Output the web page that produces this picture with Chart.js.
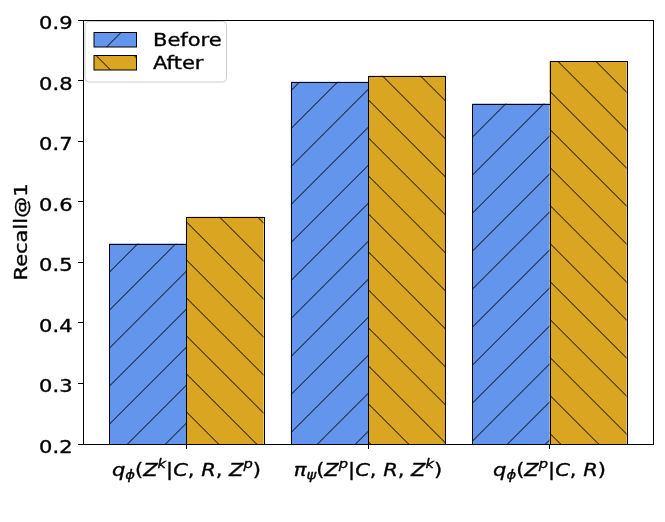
<!DOCTYPE html>
<html lang="en">
<head>
<meta charset="UTF-8">
<title>Recall@1 before and after</title>
<script src="https://cdn.jsdelivr.net/npm/chart.js"></script>
<style>
  body { margin: 0; background: #fff; }
  #wrap { width: 665px; height: 522px; position: relative; }
</style>
</head>
<body>
<div id="wrap"><canvas id="chart"></canvas></div>
<script>
  // data
  const categories = ['q_{ϕ}(Z^{k}|C, R, Z^{p})', 'π_{ψ}(Z^{p}|C, R, Z^{k})', 'q_{ϕ}(Z^{p}|C, R)'];
  const seriesNames = ['Before', 'After'];
  const beforeValues = [0.531, 0.798, 0.762];
  const afterValues = [0.575, 0.808, 0.832];
  const yTicks = [0.2, 0.3, 0.4, 0.5, 0.6, 0.7, 0.8, 0.9];
  const yTitle = 'Recall@1';

  const FONT = '"DejaVu Sans", sans-serif';
  const FS = 17.5;      // font size
  const SX = 1.2;       // the reference text runs wider than its height
  const BLUE = '#6495ED';
  const GOLD = '#DAA520';

  // hatch tile, dir > 0 is "/", dir < 0 is "\"
  function hatch(color, dir, shift) {
    const s = 38;
    const c = document.createElement('canvas');
    c.width = s; c.height = s;
    const g = c.getContext('2d');
    g.fillStyle = color;
    g.fillRect(0, 0, s, s);
    g.strokeStyle = '#000';
    g.lineWidth = 1;
    g.beginPath();
    for (let k = -1; k <= 1; k++) {
      if (dir > 0) { g.moveTo(k * s - 1, s + 1); g.lineTo(k * s + s + 1, -1); }
      else { g.moveTo(k * s - 1, -1); g.lineTo(k * s + s + 1, s + 1); }
    }
    g.stroke();
    const p = g.createPattern(c, 'repeat');
    p.setTransform(new DOMMatrix().translate(shift, 0));
    return p;
  }

  const blueHatch = hatch(BLUE, 1, 1.5);
  const goldHatch = hatch(GOLD, -1, 2.5);

  function ink(ctx, str, x, y) {
    ctx.fillText(str, x, y);
    ctx.strokeText(str, x, y);
  }

  // text stretched along its own direction
  function text(ctx, str, x, y, align, angle) {
    ctx.save();
    ctx.translate(x, y);
    ctx.rotate(angle || 0);
    ctx.scale(SX, 1);
    ctx.font = FS + 'px ' + FONT;
    ctx.textAlign = align;
    ctx.textBaseline = 'alphabetic';
    ctx.fillStyle = '#000';
    ctx.strokeStyle = '#000';
    ctx.lineWidth = 0.35;
    ink(ctx, str, 0, 0);
    ctx.restore();
  }

  // tiny mathtext: x_{sub}, x^{sup}
  function parseMath(str) {
    const parts = [];
    let i = 0;
    while (i < str.length) {
      const ch = str[i];
      if ((ch === '_' || ch === '^') && str[i + 1] === '{') {
        const end = str.indexOf('}', i);
        parts.push({ text: str.slice(i + 2, end), level: ch === '_' ? -1 : 1 });
        i = end + 1;
      } else {
        parts.push({ text: ch, level: 0 });
        i++;
      }
    }
    return parts;
  }

  function mathFont(ch, level) {
    const size = level === 0 ? FS : FS * 0.7;
    const italic = /\p{L}/u.test(ch) ? 'italic ' : '';
    return italic + size + 'px ' + FONT;
  }

  function drawMath(ctx, str, cx, baseline) {
    const glyphs = [];
    let width = 0;
    parseMath(str).forEach(p => {
      for (const ch of p.text) {
        ctx.font = mathFont(ch, p.level);
        const w = ctx.measureText(ch).width;
        glyphs.push({ ch, level: p.level, w });
        width += w;
      }
    });
    ctx.save();
    ctx.translate(cx - width * SX / 2, baseline);
    ctx.scale(SX, 1);
    ctx.textAlign = 'left';
    ctx.textBaseline = 'alphabetic';
    ctx.fillStyle = '#000';
    ctx.strokeStyle = '#000';
    ctx.lineWidth = 0.35;
    let x = 0;
    glyphs.forEach(gl => {
      ctx.font = mathFont(gl.ch, gl.level);
      const dy = gl.level === 1 ? -7.5 : gl.level === -1 ? 3.5 : 0;
      ink(ctx, gl.ch, x, dy);
      x += gl.w;
    });
    ctx.restore();
  }

  const decorations = {
    id: 'decorations',
    afterDatasetsDraw(chart) {
      // crisp 1px bar outlines on the library's own bar rectangles
      const ctx = chart.ctx;
      const a = chart.chartArea;
      ctx.save();
      ctx.strokeStyle = '#000';
      ctx.lineWidth = 1;
      chart.data.datasets.forEach((ds, di) => {
        chart.getDatasetMeta(di).data.forEach(bar => {
          const l = Math.round(bar.x - bar.width / 2);
          const r = Math.round(bar.x + bar.width / 2);
          const t = Math.round(bar.y);
          const b = Math.round(Math.min(bar.base, a.bottom));
          ctx.strokeRect(l + 0.5, t + 0.5, r - l, b - t);
        });
      });
      ctx.restore();
    },
    afterDraw(chart) {
      const ctx = chart.ctx;
      const a = chart.chartArea;
      ctx.save();
      // axes frame
      ctx.strokeStyle = '#000';
      ctx.lineWidth = 1;
      ctx.strokeRect(Math.round(a.left) + 0.5, Math.round(a.top) + 0.5,
        Math.round(a.right - a.left), Math.round(a.bottom - a.top));

      // x tick labels
      const xs = chart.scales.x;
      categories.forEach((c, i) => drawMath(ctx, c, xs.getPixelForValue(i), a.bottom + 31.5));

      // y tick labels
      const ys = chart.scales.y;
      yTicks.forEach(v => text(ctx, v.toFixed(1), a.left - 10.5, ys.getPixelForValue(v) + 9, 'right'));

      // y title
      text(ctx, yTitle, 26.5, (a.top + a.bottom) / 2, 'center', -Math.PI / 2);

      // legend
      const lx = a.left + 2, ly = a.top + 1.5, lw = 141.5, lh = 60.5;
      ctx.beginPath();
      ctx.roundRect(lx, ly, lw, lh, 4);
      ctx.fillStyle = 'rgba(255,255,255,0.8)';
      ctx.fill();
      ctx.strokeStyle = '#cccccc';
      ctx.lineWidth = 1;
      ctx.stroke();
      const fills = [blueHatch, goldHatch];
      seriesNames.forEach((name, i) => {
        const py = ly + 11 + i * 23;
        ctx.fillStyle = fills[i];
        ctx.fillRect(lx + 9, py, 42.5, 14.5);
        ctx.strokeStyle = '#000';
        ctx.lineWidth = 1;
        ctx.strokeRect(lx + 9, py, 42.5, 14.5);
        text(ctx, name, lx + 68, py + 13, 'left');
      });
      ctx.restore();
    }
  };

  const chart = new Chart(document.getElementById('chart'), {
    type: 'bar',
    data: {
      datasets: [
        {
          label: seriesNames[0],
          data: beforeValues.map((v, i) => ({ x: i, y: v })),
          backgroundColor: blueHatch,
          borderWidth: 0,
          inflateAmount: 0
        },
        {
          label: seriesNames[1],
          data: afterValues.map((v, i) => ({ x: i, y: v })),
          backgroundColor: goldHatch,
          borderWidth: 0,
          inflateAmount: 0
        }
      ]
    },
    options: {
      responsive: true,
      maintainAspectRatio: false,
      animation: false,
      categoryPercentage: 0.85,
      barPercentage: 1.0,
      layout: { padding: { top: 20, right: 12, left: 0, bottom: 0 } },
      plugins: {
        legend: { display: false },
        tooltip: { enabled: false }
      },
      scales: {
        x: {
          type: 'linear',
          min: -0.57,
          max: 2.57,
          offset: false,
          afterBuildTicks: s => { s.ticks = categories.map((c, i) => ({ value: i })); },
          afterFit: s => { s.height = 78; },
          ticks: { display: false },
          grid: { offset: false, drawOnChartArea: false, tickLength: 5, color: '#000', lineWidth: 1 },
          border: { display: false }
        },
        y: {
          min: 0.2,
          max: 0.9,
          afterBuildTicks: s => { s.ticks = yTicks.map(v => ({ value: v })); },
          afterFit: s => { s.width = 83; },
          ticks: { display: false },
          grid: { drawOnChartArea: false, tickLength: 5, color: '#000', lineWidth: 1 },
          border: { display: false }
        }
      }
    },
    plugins: [decorations]
  });
</script>
</body>
</html>
